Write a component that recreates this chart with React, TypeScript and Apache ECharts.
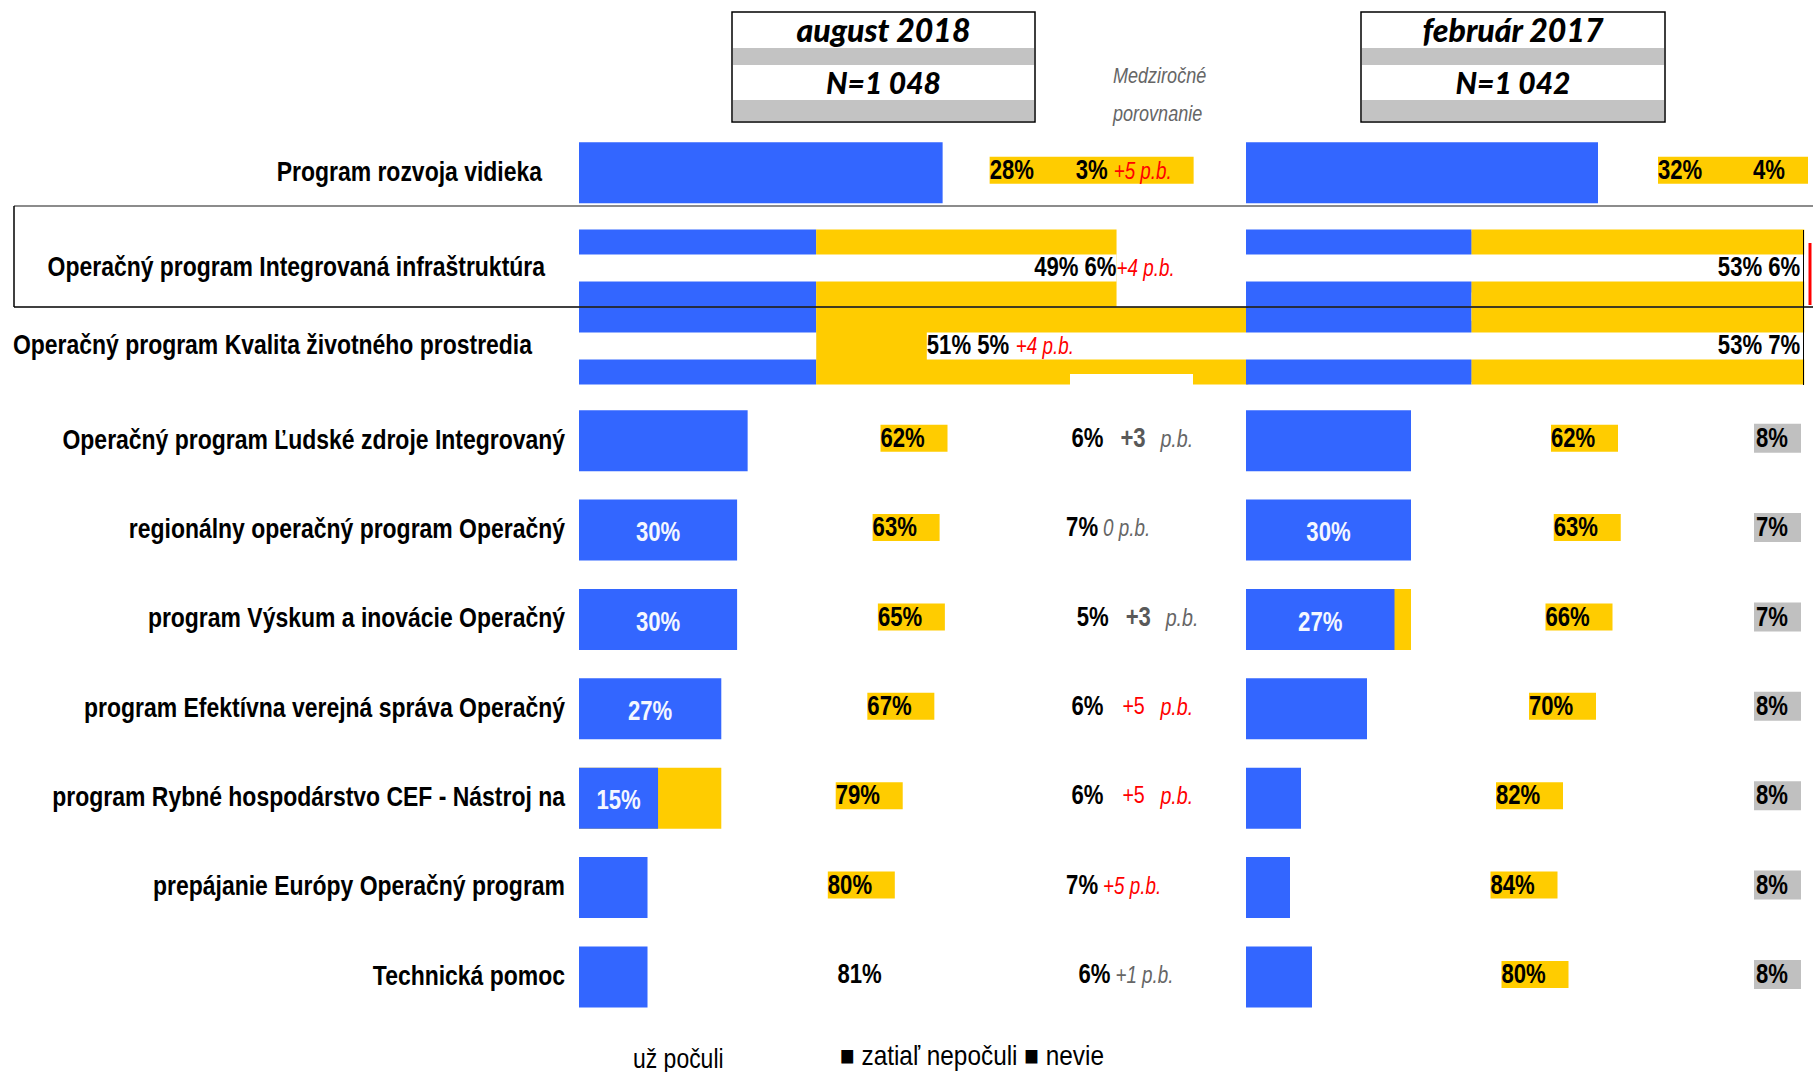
import React, { useEffect, useRef } from 'react';
import * as echarts from 'echarts';

const BASE = '"Liberation Sans", Arial, sans-serif';
const NARROW = 0.82;

const categories = [
  'Program rozvoja vidieka',
  'Operačný program Integrovaná infraštruktúra',
  'Operačný program Kvalita životného prostredia',
  'Operačný program Ľudské zdroje Integrovaný',
  'regionálny operačný program Operačný',
  'program Výskum a inovácie Operačný',
  'program Efektívna verejná správa Operačný',
  'program Rybné hospodárstvo CEF - Nástroj na',
  'prepájanie Európy Operačný program',
  'Technická pomoc',
];
const headerAug = ['august 2018', 'N=1 048'];
const headerFeb = ['február 2017', 'N=1 042'];
const compareTitle = ['Medziročné', 'porovnanie'];
const legendItems = ['už počuli', '■ zatiaľ nepočuli ■ nevie'];

// august 2018
const augHeard = [69, 45, 45, 32, 30, 30, 27, 15, 13, 13];
const augNotHeard = [28, 49, 51, 62, 63, 65, 67, 79, 80, 81];
const augDontKnow = [3, 6, 5, 6, 7, 5, 6, 6, 7, 6];
const augChange = ['+5', '+4', '+4', '+3', '0', '+3', '+5', '+5', '+5', '+1'];
const augHeardLabelled = [4, 5, 6, 7];
const augUnderYellow = [null, null, null, null, null, null, null, 27, null, null];
const augSplitYellow = [null, 57, 82, null, null, null, null, null, null, null];
const augMaskWhite = [null, 102, 45, null, null, null, null, null, null, null];
const augMaskGap = [null, 0, 21, null, null, null, null, null, null, null];
const augMaskWhite2 = [null, 0, 62, null, null, null, null, null, null, null];

// február 2017
const febHeard = [64, 41, 41, 30, 30, 27, 22, 10, 8, 12];
const febNotHeard = [32, 53, 53, 62, 63, 66, 70, 82, 84, 80];
const febDontKnow = [4, 6, 7, 8, 7, 7, 8, 8, 8, 8];
const febHeardLabelled = [4, 5];
const febUnderYellow = [null, null, null, null, null, 30, null, null, null, null];
const febSplitYellow = [null, 60.5, 60.5, null, null, null, null, null, null, null];
const febMaskWhite = [null, 102, 102, null, null, null, null, null, null, null];

const BLUE = '#3366FF';
const YELLOW = '#FFCC00';
const GREY_BOX = '#C0C0C0';
const RED = '#FF0000';
const HIDDEN = 'rgba(0,0,0,0)';

const MAIN_TOP = 128;
const MAIN_H = 893.6;
const SPLIT_TOP = 151;
const SPLIT_H = 780;
const LEFT_X = 579;
const LEFT_W = 527;
const RIGHT_X = 1246;
const RIGHT_W = 550;
const spacedRows = [3, 5, 6, 7];
const catPad = [23, 20, 33, 0, 0, 0, 0, 0, 0, 0];

const dash = (arr: (number | null)[]) => arr.map((v) => (v == null ? '-' : v));
const splitOnly = (vals: number[], split: (number | null)[]) => vals.map((v, i) => (split[i] == null ? '-' : v));

function T(x: number, y: number, text: string, o: any = {}) {
  return {
    type: 'text',
    x,
    y,
    scaleX: o.scale || NARROW,
    z2: 20,
    style: {
      text,
      align: o.align || 'left',
      verticalAlign: 'middle',
      fontFamily: BASE,
      fontSize: o.size || 27,
      fontWeight: o.weight || 'normal',
      fontStyle: o.italic ? 'italic' : 'normal',
      fill: o.color || '#000',
    },
  };
}
function R(x: number, y: number, w: number, h: number, fill: string) {
  return { type: 'rect', z2: 10, shape: { x, y, width: w, height: h }, style: { fill } };
}

function changeEls(sx: number, y: number, c: string, i: number) {
  const red = parseInt(c, 10) >= 4;
  if (spacedRows.includes(i)) {
    return [
      red ? T(sx + 51, y, c, { size: 24, color: RED }) : T(sx + 49, y, c, { size: 27, weight: 'bold', color: '#595959' }),
      T(sx + 89, y + 1, 'p.b.', { size: 24, italic: true, color: red ? RED : '#666666' }),
    ];
  }
  return [T(sx + 37, y + 1, `${c} p.b.`, { size: 23, italic: true, color: red ? RED : '#666666' })];
}

function bars(gi: number, name: string, data: any[], extra: any) {
  return { type: 'bar', name, xAxisIndex: gi, yAxisIndex: gi, data, clip: false, silent: true, ...extra };
}

const heardLabel = (x: number, y: number, v: number) =>
  T(x, y + 2, `${v}%`, { align: 'center', size: 27, weight: 'bold', color: '#F4F7FF' });

function leftLabels(params: any, api: any) {
  const i = params.dataIndex;
  if (augSplitYellow[i] != null) return { type: 'group', children: [] };
  const y = api.coord([0, i])[1];
  const X = (v: number) => api.coord([v, i])[0];
  const h = augHeard[i];
  const n = augNotHeard[i];
  const d = augDontKnow[i];
  const els: any[] = [];
  els.push(T(X(0) - 14 - catPad[i], y - 2, categories[i], { align: 'right', size: 28, weight: 'bold' }));
  if (augHeardLabelled.includes(i)) els.push(heardLabel(X(h / 2), y, h));
  if (i === 0) {
    const bl = X(h) + 47;
    els.push(R(bl, y - 16, 204, 27, YELLOW));
    els.push(T(bl, y - 3, `${n}%`, { weight: 'bold' }));
    els.push(T(bl + 86, y - 3, `${d}%`, { weight: 'bold' }));
    els.push(T(bl + 124, y - 2, `${augChange[i]} p.b.`, { size: 23, italic: true, color: RED }));
  } else {
    const cx = X(h + n / 2) + 3;
    const bl = cx - 33.5;
    if (i !== 9) els.push(R(bl, y - 16, 67, 27, YELLOW));
    els.push(T(i === 9 ? bl + 7 : bl, y - 3, `${n}%`, { weight: 'bold' }));
    const sx = X(h + n) - 3 + (i === 9 ? 7 : 0);
    els.push(T(sx, y - 3, `${d}%`, { weight: 'bold' }));
    changeEls(sx, y - 3, augChange[i], i).forEach((e) => els.push(e));
  }
  return { type: 'group', children: els };
}

function leftSplitLabels(params: any, api: any) {
  const i = params.dataIndex;
  if (augSplitYellow[i] == null) return { type: 'group', children: [] };
  const y = api.coord([0, i])[1] - 1;
  const X = (v: number) => api.coord([v, i])[0];
  const h = augHeard[i];
  const n = augNotHeard[i];
  const d = augDontKnow[i];
  const els: any[] = [];
  els.push(T(X(0) - 14 - catPad[i], y - 1, categories[i], { align: 'right', size: 28, weight: 'bold' }));
  if ((augMaskGap[i] as number) === 0) {
    const end = X(h + (augSplitYellow[i] as number));
    els.push(T(end, y, `${n}% ${d}%`, { align: 'right', weight: 'bold' }));
    els.push(T(end, y + 1, `${augChange[i]} p.b.`, { size: 23, italic: true, color: RED }));
  } else {
    const st = X((augMaskWhite[i] as number) + (augMaskGap[i] as number));
    els.push(T(st, y, `${n}% ${d}%`, { weight: 'bold' }));
    els.push(T(st + 89, y + 1, `${augChange[i]} p.b.`, { size: 23, italic: true, color: RED }));
  }
  return { type: 'group', children: els };
}

function rightLabels(params: any, api: any) {
  const i = params.dataIndex;
  if (febSplitYellow[i] != null) return { type: 'group', children: [] };
  const y = api.coord([0, i])[1];
  const X = (v: number) => api.coord([v, i])[0];
  const h = febHeard[i];
  const n = febNotHeard[i];
  const d = febDontKnow[i];
  const els: any[] = [];
  if (febHeardLabelled.includes(i)) els.push(heardLabel(X(h / 2), y, h));
  if (i === 0) {
    const bl = X(h) + 60;
    els.push(R(bl, y - 16, 150, 27, YELLOW));
    els.push(T(bl, y - 3, `${n}%`, { weight: 'bold' }));
    els.push(T(bl + 95, y - 3, `${d}%`, { weight: 'bold' }));
  } else {
    const cx = X(h + n / 2) + 3;
    const bl = cx - 33.5;
    els.push(R(bl, y - 16, 67, 27, YELLOW));
    els.push(T(bl, y - 3, `${n}%`, { weight: 'bold' }));
    const gx = X(100) - 42;
    els.push(R(gx, y - 17, 47, 29, GREY_BOX));
    els.push(T(gx + 2, y - 3, `${d}%`, { weight: 'bold' }));
  }
  return { type: 'group', children: els };
}

function rightSplitLabels(params: any, api: any) {
  const i = params.dataIndex;
  if (febSplitYellow[i] == null) return { type: 'group', children: [] };
  const y = api.coord([0, i])[1] - 1;
  const X = (v: number) => api.coord([v, i])[0];
  const end = X(febHeard[i] + (febSplitYellow[i] as number)) - 4;
  return { type: 'group', children: [T(end, y, `${febNotHeard[i]}% ${febDontKnow[i]}%`, { align: 'right', weight: 'bold' })] };
}

function buildOption() {
  const grids: any[] = [];
  const xAxes: any[] = [];
  const yAxes: any[] = [];
  for (let g = 0; g < 8; g++) {
    const isLeft = g < 4;
    const isSplit = g % 4 >= 2;
    grids.push({
      left: isLeft ? LEFT_X : RIGHT_X,
      width: isLeft ? LEFT_W : RIGHT_W,
      top: isSplit ? SPLIT_TOP : MAIN_TOP,
      height: isSplit ? SPLIT_H : MAIN_H,
      containLabel: false,
      outerBoundsMode: 'none',
    });
    xAxes.push({ type: 'value', gridIndex: g, min: 0, max: 100, show: false });
    yAxes.push({ type: 'category', gridIndex: g, data: categories, inverse: true, show: false });
  }

  const rowData = categories.map((_, i) => [0, i]);
  const labelSeries = (name: string, gi: number, renderItem: any) => ({
    type: 'custom',
    name,
    xAxisIndex: gi,
    yAxisIndex: gi,
    data: rowData,
    encode: { x: 0, y: 1 },
    renderItem,
    clip: false,
    silent: true,
    z: 5,
  });

  const series: any[] = [];
  // ---------- august 2018 (left)
  series.push(bars(0, 'augUnder', dash(augUnderYellow), { barWidth: 61, itemStyle: { color: YELLOW } }));
  series.push(bars(1, 'už počuli', augHeard, { stack: 'aug', barWidth: 61, itemStyle: { color: BLUE } }));
  series.push(bars(1, 'zatiaľ nepočuli', augNotHeard, { stack: 'aug', barWidth: 61, itemStyle: { color: HIDDEN } }));
  series.push(bars(1, 'nevie', augDontKnow, { stack: 'aug', barWidth: 61, itemStyle: { color: HIDDEN } }));
  series.push(bars(2, 'augSplitHeard', splitOnly(augHeard, augSplitYellow), { stack: 'augS', barWidth: 77, itemStyle: { color: BLUE } }));
  series.push(bars(2, 'augSplitNotHeard', dash(augSplitYellow), { stack: 'augS', barWidth: 77, itemStyle: { color: YELLOW } }));
  series.push(bars(3, 'augMask1', dash(augMaskWhite), { stack: 'augM', barWidth: 27, itemStyle: { color: '#fff' } }));
  series.push(bars(3, 'augMask2', dash(augMaskGap), { stack: 'augM', barWidth: 27, itemStyle: { color: HIDDEN } }));
  series.push(bars(3, 'augMask3', dash(augMaskWhite2), { stack: 'augM', barWidth: 27, itemStyle: { color: '#fff' } }));

  // ---------- február 2017 (right)
  series.push(bars(4, 'febUnder', dash(febUnderYellow), { barWidth: 61, itemStyle: { color: YELLOW } }));
  series.push(bars(5, 'už počuli 2017', febHeard, { stack: 'feb', barWidth: 61, itemStyle: { color: BLUE } }));
  series.push(bars(5, 'zatiaľ nepočuli 2017', febNotHeard, { stack: 'feb', barWidth: 61, itemStyle: { color: HIDDEN } }));
  series.push(bars(5, 'nevie 2017', febDontKnow, { stack: 'feb', barWidth: 61, itemStyle: { color: HIDDEN } }));
  series.push(bars(6, 'febSplitHeard', splitOnly(febHeard, febSplitYellow), { stack: 'febS', barWidth: 77, itemStyle: { color: BLUE } }));
  series.push(bars(6, 'febSplitNotHeard', dash(febSplitYellow), { stack: 'febS', barWidth: 77, itemStyle: { color: YELLOW } }));
  series.push(bars(7, 'febMask', dash(febMaskWhite), { stack: 'febM', barWidth: 27, itemStyle: { color: '#fff' } }));

  // labels, placed through the axes' scales
  series.push(labelSeries('augLabels', 1, leftLabels));
  series.push(labelSeries('augSplitLabels', 3, leftSplitLabels));
  series.push(labelSeries('febLabels', 5, rightLabels));
  series.push(labelSeries('febSplitLabels', 7, rightSplitLabels));

  const headerBox = (x0: number, w: number, lines: string[]) => ({
    type: 'group',
    x: x0,
    y: 12,
    children: [
      { type: 'rect', shape: { x: 0, y: 0, width: w, height: 110 }, style: { fill: '#fff', stroke: '#000', lineWidth: 1.5 } },
      { type: 'rect', shape: { x: 1, y: 36, width: w - 2, height: 17 }, style: { fill: '#C3C3C3' } },
      { type: 'rect', shape: { x: 1, y: 88, width: w - 2, height: 21 }, style: { fill: '#C3C3C3' } },
      {
        type: 'text',
        x: w / 2,
        y: 17,
        style: { text: lines[0], fontFamily: 'Lato', fontStyle: 'italic', fontWeight: 900, fontSize: 32, fill: '#000', align: 'center', verticalAlign: 'middle' },
      },
      {
        type: 'text',
        x: w / 2,
        y: 70,
        style: { text: lines[1], fontFamily: 'Lato', fontStyle: 'italic', fontWeight: 900, fontSize: 30, fill: '#000', align: 'center', verticalAlign: 'middle' },
      },
    ],
  });

  const gText = (x: number, y: number, text: string, o: any) => ({
    type: 'text',
    x,
    y,
    scaleX: o.scale || NARROW,
    style: {
      text,
      fontFamily: BASE,
      fontSize: o.size,
      fontStyle: o.italic ? 'italic' : 'normal',
      fill: o.color,
      align: o.align || 'left',
      verticalAlign: 'middle',
    },
  });

  const graphic: any[] = [
    headerBox(732, 303, headerAug),
    headerBox(1361, 304, headerFeb),
    gText(1113, 75, compareTitle[0], { size: 22, italic: true, color: '#666' }),
    gText(1113, 113, compareTitle[1], { size: 22, italic: true, color: '#666' }),
    { type: 'rect', z: 90, shape: { x: 1070, y: 374, width: 123, height: 12 }, style: { fill: '#fff' } },
    { type: 'line', z: 100, shape: { x1: 14, y1: 206, x2: 1813, y2: 206 }, style: { stroke: '#666', lineWidth: 1.5 } },
    { type: 'line', z: 100, shape: { x1: 14, y1: 206, x2: 14, y2: 307 }, style: { stroke: '#000', lineWidth: 1.5 } },
    { type: 'line', z: 100, shape: { x1: 14, y1: 307, x2: 1813, y2: 307 }, style: { stroke: '#000', lineWidth: 1.5 } },
    { type: 'line', z: 100, shape: { x1: 1803.5, y1: 230, x2: 1803.5, y2: 385 }, style: { stroke: '#000', lineWidth: 1 } },
    { type: 'line', z: 100, shape: { x1: 1810, y1: 243, x2: 1810, y2: 305 }, style: { stroke: RED, lineWidth: 3 } },
    gText(633, 1058, legendItems[0], { size: 28, color: '#000' }),
    gText(840, 1055, legendItems[1], { size: 28, color: '#000', scale: 0.87 }),
  ];

  return {
    animation: false,
    backgroundColor: '#fff',
    grid: grids,
    xAxis: xAxes,
    yAxis: yAxes,
    series,
    graphic,
  };
}

export default function App() {
  const ref = useRef<HTMLDivElement>(null);
  useEffect(() => {
    document.body.style.margin = '0';
    if (!ref.current) return;
    const chart = echarts.init(ref.current, undefined, { renderer: 'svg' });
    chart.setOption(buildOption() as any);
    return () => chart.dispose();
  }, []);
  return <div ref={ref} style={{ position: 'absolute', left: 0, top: 0, width: 1813, height: 1072 }} />;
}
